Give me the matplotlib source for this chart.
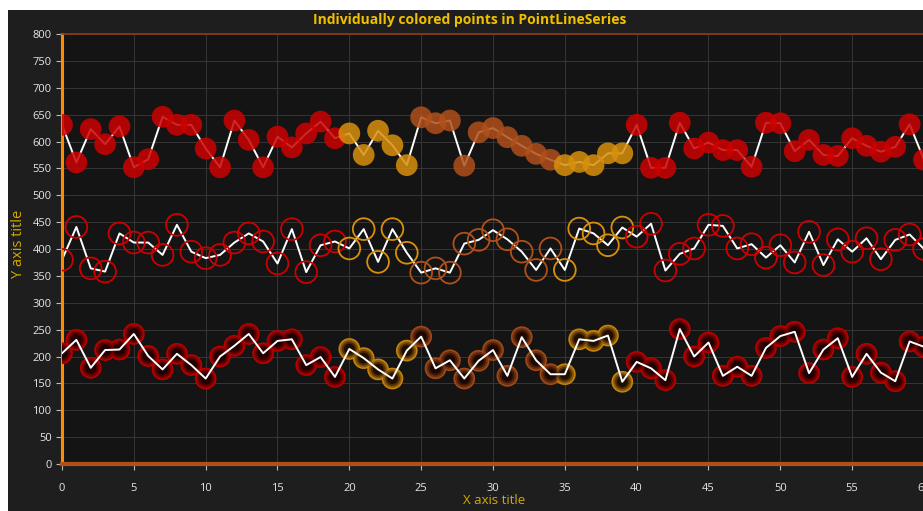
import matplotlib
matplotlib.use("Agg")
import matplotlib.pyplot as plt
from matplotlib.patches import Rectangle
from matplotlib.colors import to_rgb
import numpy as np

# ---------------- data ----------------
x_values = list(range(61))

top_values = [631, 561, 623, 595, 628, 552, 567, 646, 631, 631,
              587, 552, 639, 603, 552, 609, 589, 615, 637, 606,
              615, 575, 620, 593, 556, 645, 634, 639, 555, 617,
              625, 608, 592, 577, 566, 556, 562, 556, 578, 578,
              631, 551, 551, 635, 587, 598, 584, 584, 553, 635,
              634, 582, 603, 575, 573, 606, 592, 581, 590, 632, 566]

mid_values = [380, 441, 364, 358, 429, 412, 412, 389, 445, 395,
              383, 389, 412, 429, 414, 373, 437, 357, 407, 414,
              401, 437, 376, 437, 393, 356, 364, 356, 410, 417,
              435, 418, 395, 361, 401, 361, 438, 429, 407, 440,
              423, 447, 360, 391, 401, 445, 443, 401, 409, 384,
              407, 375, 432, 370, 418, 395, 420, 381, 417, 427, 400]

bot_values = [206, 231, 179, 212, 213, 242, 201, 176, 205, 184,
              159, 200, 220, 242, 206, 229, 232, 184, 199, 162,
              214, 197, 176, 159, 211, 237, 178, 193, 159, 192,
              212, 164, 236, 193, 167, 167, 232, 229, 239, 153,
              190, 178, 156, 251, 200, 226, 164, 181, 164, 216,
              238, 246, 169, 213, 234, 162, 205, 170, 154, 228, 218]

# colour group per point index: 0 red, 1 gold, 2 brown
color_groups = [0] * 20 + [1] * 5 + [2] * 10 + [1] * 5 + [0] * 21
group_colors = ["#CC0000", "#D8900C", "#B0501A"]

title = "Individually colored points in PointLineSeries"
x_title = "X axis title"
y_title = "Y axis title"
x_ticks = list(range(0, 61, 5))
y_ticks = list(range(0, 801, 50))

# ---------------- figure ----------------
W, H = 923, 511
fig = plt.figure(figsize=(W / 100, H / 100), dpi=100, facecolor="white")
bg = Rectangle((8 / W, 0), 1, (H - 10) / H, transform=fig.transFigure,
               facecolor="#1E1E1E", edgecolor="none", zorder=-10)
fig.add_artist(bg)

ax = fig.add_axes([62 / W, 47 / H, 862 / W, 430 / H])
ax.set_facecolor("#141414")
ax.set_xlim(0, 60)
ax.set_ylim(0, 800)

ax.set_xticks(x_ticks)
ax.set_yticks(y_ticks)
ax.grid(True, color="#363636", linewidth=0.7)
ax.set_axisbelow(True)

tick_color = "#E6E6E6"
ax.tick_params(axis="both", colors="#BBBBBB", labelcolor=tick_color, labelsize=8,
               length=4, width=0.8)
ax.tick_params(axis="x", pad=10)
for lbl in ax.get_xticklabels() + ax.get_yticklabels():
    lbl.set_family("Open Sans")

ax.spines["left"].set_color("#FF8C00")
ax.spines["left"].set_linewidth(2.2)
ax.spines["bottom"].set_color("#B0501A")
ax.spines["bottom"].set_linewidth(3.0)
ax.spines["top"].set_color("#8A3E10")
ax.spines["top"].set_linewidth(1.2)
ax.spines["right"].set_visible(False)

cols = [group_colors[g] for g in color_groups]
ms = 245

# top series: filled markers over line
ax.plot(x_values, top_values, color="white", lw=1.4, zorder=2)
ax.scatter(x_values, top_values, s=ms, c=cols, alpha=0.85, edgecolors="none", zorder=3)

# middle series: ring markers
ax.plot(x_values, mid_values, color="white", lw=1.4, zorder=2)
ax.scatter(x_values, mid_values, s=ms, facecolors="none", edgecolors=cols,
           linewidths=1.3, zorder=3)

# bottom series: radial-gradient-like markers
base = np.array([to_rgb(c) for c in cols])
layers = [(1.0, 0.9), (0.85, 0.6), (0.68, 0.32), (0.5, 0.1)]
for scale, mix in layers:
    rgb = base * mix + np.array([0.05, 0.0, 0.0]) * (1 - mix)
    ax.scatter(x_values, bot_values, s=ms * scale ** 2, c=np.clip(rgb, 0, 1),
               edgecolors="none", zorder=3)
ax.plot(x_values, bot_values, color="white", lw=1.4, zorder=4)

title_color = "#F0C000"
fig.text(470 / W, 1 - 20 / H, title, color=title_color, fontsize=10,
         fontweight="bold", ha="center", va="center", family="Open Sans")
fig.text(494 / W, 1 - 500 / H, x_title, color="#D4AA00", fontsize=9.5,
         ha="center", va="center", family="Open Sans")
fig.text(18 / W, 1 - 244 / H, y_title, color="#D4AA00", fontsize=10.5,
         ha="center", va="center", rotation=90, family="Open Sans")

fig.savefig("out.png", dpi=100, facecolor=fig.get_facecolor())
